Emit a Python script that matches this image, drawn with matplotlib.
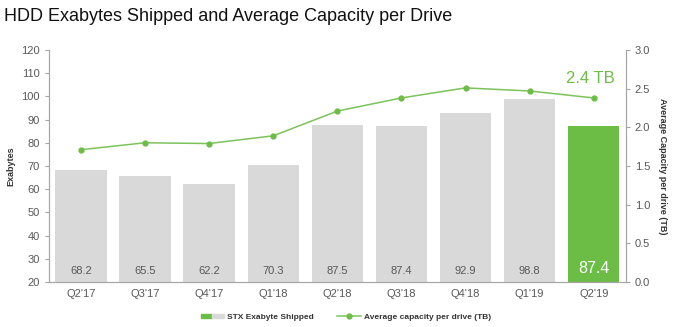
import matplotlib
matplotlib.use("Agg")
import matplotlib.pyplot as plt
from matplotlib.patches import Patch
from matplotlib.lines import Line2D
from matplotlib.legend_handler import HandlerTuple

plt.rcParams["font.family"] = ["Liberation Sans", "DejaVu Sans"]

quarters = ["Q2'17", "Q3'17", "Q4'17", "Q1'18", "Q2'18", "Q3'18", "Q4'18", "Q1'19", "Q2'19"]
exabytes = [68.2, 65.5, 62.2, 70.3, 87.5, 87.4, 92.9, 98.8, 87.4]
avg_capacity = [1.71, 1.80, 1.79, 1.89, 2.21, 2.38, 2.51, 2.47, 2.38]

GRAY = "#d9d9d9"
GREEN = "#6cbd45"
LINE_GREEN = "#7cc35a"
AXIS = "#a6a6a6"
TEXT = "#595959"

fig = plt.figure(figsize=(6.78, 3.27), dpi=100)
ax = fig.add_axes([0.072, 0.138, 0.851, 0.709])
ax2 = ax.twinx()

x = list(range(len(quarters)))
colors = [GRAY] * (len(quarters) - 1) + [GREEN]
ax.bar(x, [v - 20 for v in exabytes], bottom=20, width=0.8, color=colors, zorder=1)

for i, v in enumerate(exabytes):
    last = i == len(exabytes) - 1
    ax.text(i, 22.5, f"{v}", ha="center", va="bottom",
            color="white" if last else TEXT, fontsize=11.5 if last else 8)

ax.set_ylim(20, 120)
ax.set_xlim(-0.5, len(quarters) - 0.5)
ax.set_yticks(range(20, 121, 10))
ax.set_xticks(x)
ax.set_xticklabels(quarters)
ax.set_ylabel("Exabytes", fontsize=6.5, fontweight="bold", color="#333333")
ax.yaxis.set_label_coords(-0.058, 0.5)

ax2.plot(x, avg_capacity, color=LINE_GREEN, lw=1.1, marker="o", ms=3.5,
         mfc=GREEN, mec=GREEN, zorder=3)
ax2.set_ylim(0, 3.0)
ax2.set_yticks([0.0, 0.5, 1.0, 1.5, 2.0, 2.5, 3.0])
ax2.set_yticklabels([f"{t:.1f}" for t in [0.0, 0.5, 1.0, 1.5, 2.0, 2.5, 3.0]])
ax2.set_ylabel("Average Capacity per drive (TB)", fontsize=6.5, fontweight="bold",
               color="#333333", rotation=-90, labelpad=12)
ax2.text(x[-1] - 0.05, avg_capacity[-1] + 0.15, "2.4 TB", ha="center", va="bottom",
         color=GREEN, fontsize=12)

for a in (ax, ax2):
    a.spines["top"].set_visible(False)
    for s in ("left", "right", "bottom"):
        a.spines[s].set_color(AXIS)
    a.tick_params(colors=AXIS, labelcolor=TEXT, labelsize=8, length=3)
ax.tick_params(axis="x", length=0, pad=5)

fig.text(0.006, 0.975, "HDD Exabytes Shipped and Average Capacity per Drive",
         fontsize=13, va="top", ha="left", color="#111111")

bar_handle = (Patch(color=GREEN), Patch(color=GRAY))
line_handle = Line2D([], [], color=LINE_GREEN, lw=1.1, marker="o", ms=3.5, mfc=GREEN, mec=GREEN)
leg = fig.legend([bar_handle, line_handle],
                 ["STX Exabyte Shipped", "Average capacity per drive (TB)"],
                 handler_map={tuple: HandlerTuple(ndivide=None, pad=0)},
                 loc="center", bbox_to_anchor=(0.51, 0.03), ncol=2, frameon=False,
                 prop={"size": 6, "weight": "bold"}, handlelength=2.8, handleheight=0.4,
                 handletextpad=0.4, columnspacing=2.8)
for t in leg.get_texts():
    t.set_color("#333333")

fig.savefig("out.png", dpi=100)
